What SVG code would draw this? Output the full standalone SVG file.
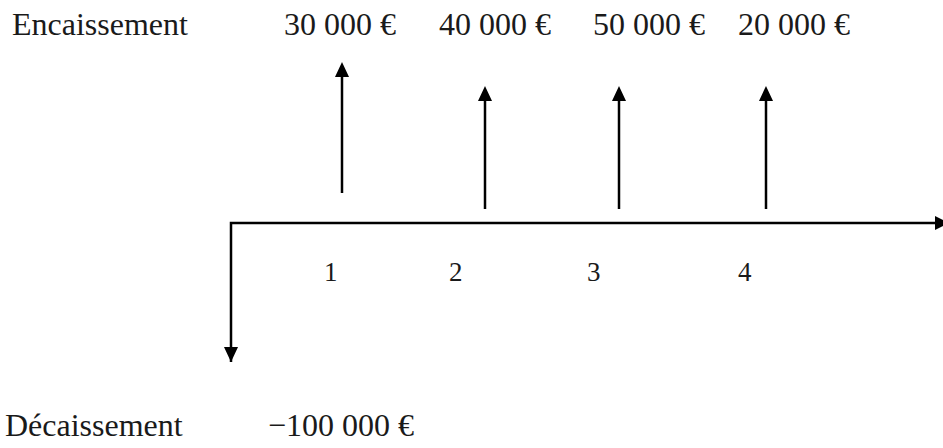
<svg xmlns="http://www.w3.org/2000/svg" width="943" height="448" viewBox="0 0 943 448">
<style>
  .t { font-family: "Liberation Serif", "Times New Roman", serif; fill: #1a1a1a; }
  .big { font-size: 32px; }
  .num { font-size: 27px; }
  .ln { stroke: #000; stroke-width: 2.5; fill: none; }
  .head { fill: #000; stroke: none; }
</style>
<rect width="943" height="448" fill="#fff"/>
<g id="labels">
  <text class="t big" x="12" y="35">Encaissement</text>
  <text class="t big" x="284" y="35">30 000 €</text>
  <text class="t big" x="439" y="35">40 000 €</text>
  <text class="t big" x="593" y="35">50 000 €</text>
  <text class="t big" x="738" y="35">20 000 €</text>
  <text class="t big" x="5" y="436">Décaissement</text>
  <text class="t big" x="268" y="436">−100 000 €</text>
</g>
<g id="periods">
  <text class="t num" x="324" y="281">1</text>
  <text class="t num" x="449" y="281">2</text>
  <text class="t num" x="587" y="281">3</text>
  <text class="t num" x="738" y="281">4</text>
</g>
<g id="connectors">
  <path class="ln" d="M231,362 V223 H936"/>
  <polygon class="head" points="935,216 949,223 935,230"/>
  <polygon class="head" points="224,347 238,347 231,362"/>
  <line class="ln" x1="342" y1="193" x2="342" y2="76"/>
  <polygon class="head" points="335,77 349,77 342,62"/>
  <line class="ln" x1="485" y1="209" x2="485" y2="100"/>
  <polygon class="head" points="478,101 492,101 485,86"/>
  <line class="ln" x1="619" y1="209" x2="619" y2="100"/>
  <polygon class="head" points="612,101 626,101 619,86"/>
  <line class="ln" x1="766" y1="209" x2="766" y2="100"/>
  <polygon class="head" points="759,101 773,101 766,86"/>
</g>
</svg>
